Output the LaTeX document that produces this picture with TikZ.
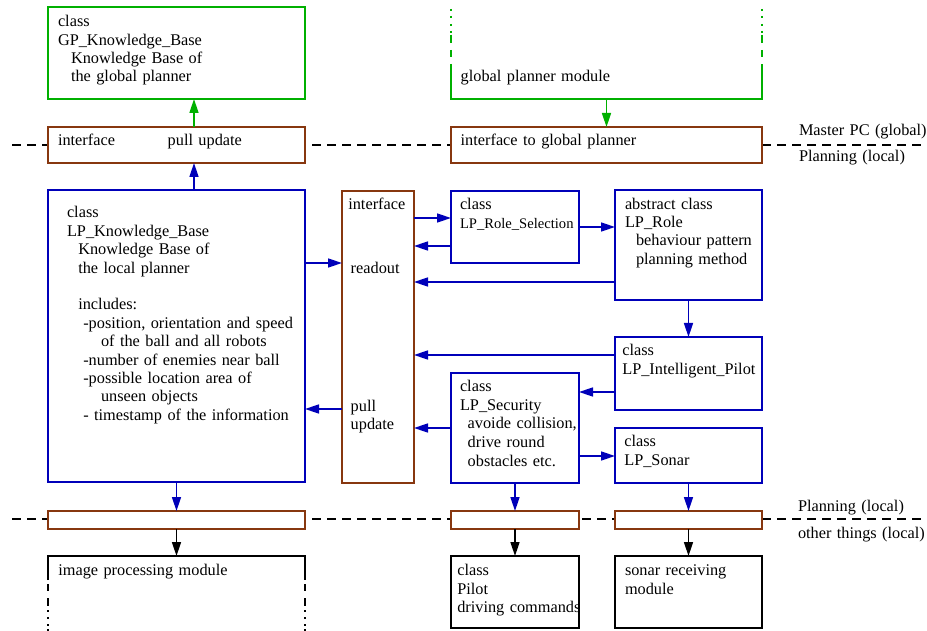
\documentclass[tikz,border=0pt]{standalone}
\usepackage{fontspec}
\setmainfont{Liberation Serif}
\usetikzlibrary{arrows.meta}
\definecolor{kbgreen}{RGB}{0,176,0}
\definecolor{lpblue}{RGB}{0,0,185}
\definecolor{ifbrown}{RGB}{135,55,15}
\begin{document}
\begin{tikzpicture}[x=1pt,y=-1pt,
  box/.style={draw, line width=1.6pt, fill=white, inner sep=0pt, outer sep=0pt, anchor=north west},
  gbox/.style={box, draw=kbgreen},
  bbox/.style={box, draw=lpblue},
  ibox/.style={box, draw=ifbrown},
  kbox/.style={box, draw=black},
  openbox/.style={box, draw=none, fill=none},
  txt/.style={anchor=base west, inner sep=0pt, outer sep=0pt, text width=300pt, align=left,
              font=\fontsize{16.3}{18.3}\selectfont},
  link/.style={line width=1.6pt, -{Triangle[length=14pt,width=9pt]}},
  garrow/.style={link, color=kbgreen},
  barrow/.style={link, color=lpblue},
  karrow/.style={link, color=black},
  border/.style={line width=1.6pt},
  layer/.style={black, line width=1.6pt, dash pattern=on 9pt off 6pt},
]
\useasboundingbox (0,0) rectangle (927,631);

% layer boundaries
\coordinate (l1a) at (12,145);  \coordinate (l1b) at (927,145);
\coordinate (l2a) at (12,519);  \coordinate (l2b) at (927,519);
\draw[layer] (l1a) -- (l1b);
\draw[layer] (l2a) -- (l2b);

% column / row helpers
\coordinate (c194) at (194,0);
\foreach \n/\y in {r218/218, r227/227, r246/246, r263/263, r282/282, r355/355,
                   r392/392, r409/409, r428/428, r456/456}
  \coordinate (\n) at (0,\y);

% global level
\node[gbox, minimum width=257pt, minimum height=92pt] (gpkb) at (48,7) {};
\node[openbox, minimum width=311pt, minimum height=94pt] (gpm) at (451,5) {};
\draw[border, kbgreen] (451,64) -- (gpm.south west) -- (gpm.south east) -- (762,64);
\foreach \xx in {451,762} {
  \draw[border, kbgreen] (\xx,50) -- (\xx,57);
  \draw[border, kbgreen] (\xx,35) -- (\xx,43);
  \foreach \yy in {9,16,24,31}
    \draw[border, kbgreen] (\xx,\yy) -- (\xx,\yy+2);
}

% interfaces across the upper boundary
\node[ibox, minimum width=257pt, minimum height=36pt] (ifl) at (48,127) {};
\node[ibox, minimum width=311pt, minimum height=36pt] (ifg) at (451,127) {};

% local planner
\node[bbox, minimum width=257pt, minimum height=292pt] (lpkb) at (48,190) {};
\node[ibox, minimum width=72pt, minimum height=292pt] (ifv) at (342,191) {};
\node[bbox, minimum width=128pt, minimum height=72pt] (rsel) at (451,191) {};
\node[bbox, minimum width=147pt, minimum height=110pt] (role) at (615,190) {};
\node[bbox, minimum width=147pt, minimum height=73pt] (ipil) at (615,337) {};
\node[bbox, minimum width=128pt, minimum height=110pt] (sec) at (451,373) {};
\node[bbox, minimum width=147pt, minimum height=55pt] (son) at (615,428) {};

% interfaces across the lower boundary
\node[ibox, minimum width=257pt, minimum height=18pt] (sb1) at (48,511) {};
\node[ibox, minimum width=128pt, minimum height=18pt] (sb2) at (451,511) {};
\node[ibox, minimum width=147pt, minimum height=18pt] (sb3) at (615,511) {};

% other modules
\node[openbox, minimum width=257pt, minimum height=75pt] (imp) at (48,556) {};
\draw[border] (48,580) -- (imp.north west) -- (imp.north east) -- (305,580);
\foreach \xx in {48,305} {
  \draw[border] (\xx,584) -- (\xx,591);
  \draw[border] (\xx,598) -- (\xx,606);
  \foreach \yy in {610,617,624,629}
    \draw[border] (\xx,\yy) -- (\xx,\yy+2);
}
\node[kbox, minimum width=128pt, minimum height=72pt] (pil) at (451,556) {};
\node[kbox, minimum width=147pt, minimum height=72pt] (srm) at (615,556) {};

% connectors
\draw[garrow] (ifl.north -| c194) -- (gpkb.south -| c194);
\draw[garrow] (gpm.south) -- (ifg.north);
\draw[barrow] (lpkb.north -| c194) -- (ifl.south -| c194);
\draw[barrow] (lpkb.east |- r263) -- (ifv.west |- r263);
\draw[barrow] (ifv.west |- r409) -- (lpkb.east |- r409);
\draw[barrow] (ifv.east |- r218) -- (rsel.west |- r218);
\draw[barrow] (rsel.west |- r246) -- (ifv.east |- r246);
\draw[barrow] (rsel.east |- r227) -- (role.west |- r227);
\draw[barrow] (role.west |- r282) -- (ifv.east |- r282);
\draw[barrow] (role.south) -- (ipil.north);
\draw[barrow] (ipil.west |- r355) -- (ifv.east |- r355);
\draw[barrow] (ipil.west |- r392) -- (sec.east |- r392);
\draw[barrow] (sec.west |- r428) -- (ifv.east |- r428);
\draw[barrow] (sec.east |- r456) -- (son.west |- r456);
\draw[barrow] (lpkb.south) -- (sb1.north);
\draw[barrow] (sec.south) -- (sb2.north);
\draw[barrow] (son.south) -- (sb3.north);
\draw[karrow] (sb1.south) -- (imp.north);
\draw[karrow] (sb2.south) -- (pil.north);
\draw[karrow] (sb3.south) -- (srm.north);

% texts
\node[txt] (tgp) at (58,27) {class\\GP\_Knowledge\_Base\\\hspace*{13pt}Knowledge Base of\\\hspace*{13pt}the global planner};
\node[txt] (tgpm) at (460.7,82) {global planner module};
\node[txt] (tifl1) at (58,146) {interface};
\node[txt] (tifl2) at (167.7,146) {pull update};
\node[txt] (tifg) at (460.7,146) {interface to global planner};
\node[txt] (tm1) at (799,136) {Master PC (global)};
\node[txt] (tm2) at (799,162) {Planning (local)};
\node[txt] (tm3) at (798,511.5) {Planning (local)};
\node[txt] (tm4) at (798,538.5) {other things (local)};

\node[txt, font=\fontsize{16.3}{18.4}\selectfont] (tkb) at (67,218) {class\\LP\_Knowledge\_Base\\
  \hspace*{11.3pt}Knowledge Base of\\\hspace*{11.3pt}the local planner\\[18.4pt]
  \hspace*{11.3pt}includes:\\
  \hspace*{16.3pt}-position, orientation and speed\\
  \hspace*{34pt}of the ball and all robots\\
  \hspace*{16.3pt}-number of enemies near ball\\
  \hspace*{16.3pt}-possible location area of\\
  \hspace*{34pt}unseen objects\\
  \hspace*{16.3pt}- timestamp of the information};

\node[txt] (tifv1) at (348.3,210) {interface};
\node[txt] (tifv2) at (350.7,274) {readout};
\node[txt] (tifv3) at (350.7,411) {pull\\update};

\node[txt] (trs) at (460,210) {class\\{\fontsize{14.6}{17.7}\selectfont LP\_Role\_Selection}};
\node[txt] (trole) at (625,209.3) {abstract class\\LP\_Role\\\hspace*{11pt}behaviour pattern\\\hspace*{11pt}planning method};
\node[txt] (tipil) at (622.3,355.7) {class\\LP\_Intelligent\_Pilot};
\node[txt, font=\fontsize{16.3}{18.6}\selectfont] (tsec) at (460,391.7) {class\\LP\_Security\\\hspace*{7.7pt}avoide collision,\\\hspace*{7.7pt}drive round\\\hspace*{7.7pt}obstacles etc.};
\node[txt] (tson) at (624.3,446.7) {class\\LP\_Sonar};

\node[txt] (timp) at (58.3,575) {image processing module};
\node[txt] (tpil) at (457.3,575.7) {class\\Pilot\\driving commands};
\node[txt] (tsrm) at (625,575.7) {sonar receiving\\module};
\end{tikzpicture}
\end{document}
